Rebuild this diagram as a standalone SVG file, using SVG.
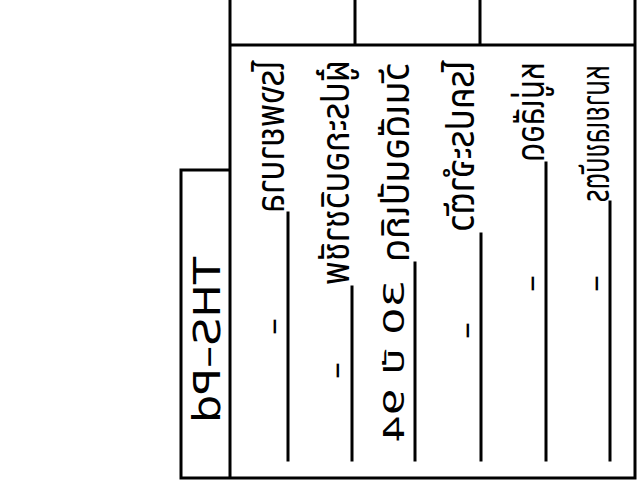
<svg xmlns="http://www.w3.org/2000/svg" width="640" height="480" viewBox="0 0 640 480">
<style>
.ln{stroke:#000;stroke-width:3;fill:none;stroke-linecap:square}
.t{font-family:"Noto Sans Thai","DejaVu Sans",sans-serif;font-size:40px;fill:#000}
.v{font-family:"DejaVu Sans","Noto Sans Thai",sans-serif;font-size:28px;fill:#000}
.d{font-family:"DejaVu Sans",sans-serif;font-size:34px;fill:#000}
.h{font-family:"DejaVu Sans",sans-serif;font-size:37px;fill:#000}
</style>
<rect width="640" height="480" fill="#fff"/>
<g id="frame">
<path class="ln" d="M230 0V478M355 0V45M480 0V45M230 45H635M635 0V478M181 478H635M181 478V170H230"/>
</g>
<g id="rules">
<path class="ln" d="M288 213V460M352 287V460M415 263V460M481 234V460M546 163V460M610 202V460"/>
</g>
<g id="header"><text class="h" transform="matrix(0,1,1,0,220,257)" textLength="166" lengthAdjust="spacingAndGlyphs">THS–Pd</text></g>
<g id="row1"><text class="t" transform="matrix(0,1,1,0,284,60)" textLength="153" lengthAdjust="spacingAndGlyphs">โรงพยาบาล</text>
<text class="d" transform="matrix(0,1,1,0,284,318)">–</text></g>
<g id="row2"><text class="t" transform="matrix(0,1,1,0,349,60)" textLength="225" lengthAdjust="spacingAndGlyphs">ผู้ประกอบวิชาชีพ</text>
<text class="d" transform="matrix(0,1,1,0,347,362)">–</text></g>
<g id="row3"><text class="t" transform="matrix(0,1,1,0,409,63)" textLength="199" lengthAdjust="spacingAndGlyphs">วันเดือนปีเกิด</text>
<text class="v" transform="matrix(0,1,1,0,404,280)" textLength="163" lengthAdjust="spacingAndGlyphs">30 ปี 94</text></g>
<g id="row4"><text class="t" transform="matrix(0,1,1,0,474,60)" textLength="172" lengthAdjust="spacingAndGlyphs">โรคประจำตัว</text>
<text class="d" transform="matrix(0,1,1,0,477,322)">–</text></g>
<g id="row5"><text class="t" transform="matrix(0,1,1,0,544,62)" textLength="100" lengthAdjust="spacingAndGlyphs">หมู่เลือด</text>
<text class="d" transform="matrix(0,1,1,0,542,275)">–</text></g>
<g id="row6"><text class="t" transform="matrix(0,1,1,0,609,65)" textLength="137" lengthAdjust="spacingAndGlyphs">หมายเลขบัตร</text>
<text class="d" transform="matrix(0,1,1,0,606,275)">–</text></g>
</svg>
